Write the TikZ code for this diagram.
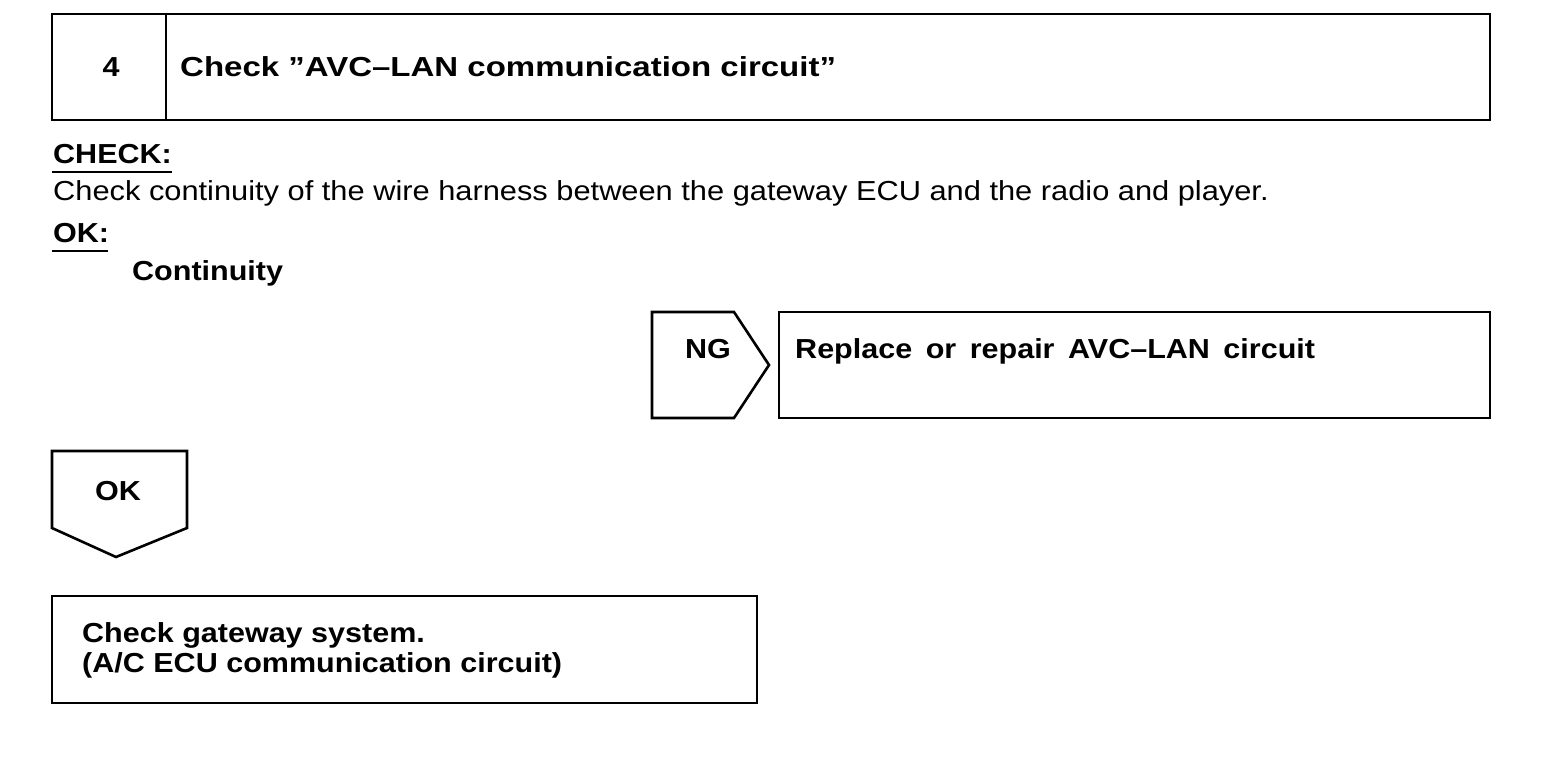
\documentclass[tikz,border=0pt]{standalone}
\usepackage{fontspec}
\setmainfont{Liberation Sans}
\newfontfamily\bodyfont[FakeStretch=1.11]{Liberation Sans}
\newfontfamily\regfont[FakeStretch=1.12]{Liberation Sans}
\newfontfamily\titlefont[FakeStretch=1.20]{Liberation Sans}
\begin{document}
\begin{tikzpicture}[x=1pt,y=-1pt,
  frame/.style={draw=black,line width=2.6pt,line join=miter},
  bt/.style={font=\bodyfont\fontsize{27.5}{30}\selectfont\bfseries,inner sep=0pt,anchor=base west},
  tt/.style={font=\titlefont\fontsize{27.5}{30}\selectfont\bfseries,inner sep=0pt,anchor=base west},
  rt/.style={font=\regfont\fontsize{27.5}{30}\selectfont,inner sep=0pt,anchor=base west},
  uline/.style={draw=black,line width=2pt}]
\useasboundingbox (0,0) rectangle (1568,760);
% header
\draw[frame] (52,14) rectangle (1490,120);
\draw[frame] (166,14) -- (166,120);
\node[bt,anchor=base] (num) at (111,77) {4};
\node[tt] (title) at (180,77) {Check ”AVC–LAN communication circuit”};
% check
\node[bt] (check) at (53,163) {CHECK:};
\draw[uline] (52,172) -- (172,172);
\node[rt] (body) at (53,200) {Check continuity of the wire harness between the gateway ECU and the radio and player.};
\node[bt] (ok) at (53,242) {OK:};
\draw[uline] (52,251) -- (108,251);
\node[bt] (cont) at (132,280) {Continuity};
% NG
\draw[frame] (652,312) -- (734,312) -- (769,365) -- (734,418) -- (652,418) -- cycle;
\node[bt,anchor=base] (ng) at (708,358) {NG};
\draw[frame] (779,312) rectangle (1490,418);
\node[bt] (repl) at (795,358) {\spaceskip=13.5pt Replace or repair AVC–LAN circuit};
% OK arrow
\draw[frame] (52,451) -- (187,451) -- (187,528) -- (116,557) -- (52,528) -- cycle;
\node[bt,anchor=base] (okarrow) at (118,500) {OK};
% gateway
\draw[frame] (52,596) rectangle (757,703);
\node[bt] (gw1) at (82,642) {Check gateway system.};
\node[bt] (gw2) at (82,672) {(A/C ECU communication circuit)};
\end{tikzpicture}
\end{document}
